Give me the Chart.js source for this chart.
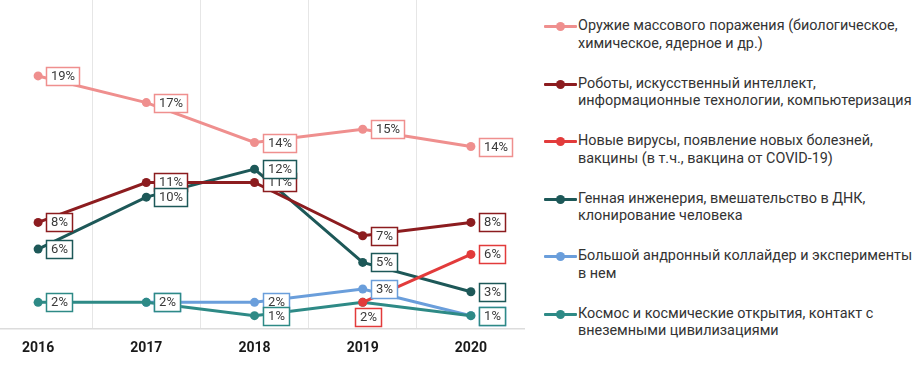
<!DOCTYPE html>
<html>
<head>
<meta charset="utf-8">
<script src="https://cdn.jsdelivr.net/npm/chart.js@4.4.0/dist/chart.umd.min.js"></script>
<style>
  html, body { margin: 0; padding: 0; background: #fff; }
  body { width: 923px; height: 372px; position: relative; overflow: hidden; font-family: Roboto, "Noto Sans", sans-serif; }
  #wrap { position: absolute; left: -16px; top: 0; width: 541px; height: 372px; }
  #legend { position: absolute; left: 544px; top: 17px; width: 380px; }
  .item { position: relative; height: 35px; margin-bottom: 22.6px; padding-left: 34px; font-size: 14.4px; line-height: 17.5px; color: #333; white-space: nowrap; }
  .mk { position: absolute; left: 0; top: 8px; width: 33px; height: 3px; border-radius: 1px; }
  .mk i { position: absolute; left: 12px; top: -3px; width: 9px; height: 9px; border-radius: 50%; }
</style>
</head>
<body>
<div id="wrap"><canvas id="c"></canvas></div>
<div id="legend"></div>
<script>
const years = ['2016', '2017', '2018', '2019', '2020'];
const seriesNames = [
  ['Оружие массового поражения (биологическое,', 'химическое, ядерное и др.)'],
  ['Роботы, искусственный интеллект,', 'информационные технологии, компьютеризация'],
  ['Новые вирусы, появление новых болезней,', 'вакцины (в т.ч., вакцина от COVID-19)'],
  ['Генная инженерия, вмешательство в ДНК,', 'клонирование человека'],
  ['Большой андронный коллайдер и эксперименты', 'в нем'],
  ['Космос и космические открытия, контакт с', 'внеземными цивилизациями']
];
const weapons  = [19, 17, 14, 15, 13.7];
const robots   = [8, 11, 11, 7, 8];
const viruses  = [null, null, null, 2, 5.6];
const genetic  = [6, 9.9, 12, 5, 2.8];
const collider = [null, 2, 2, 3, 1];
const space    = [2, 2, 1, 2, 1];

const seriesValues = [weapons, robots, viruses, genetic, collider, space];
const colors = ['#EF8F8E', '#8C1C1F', '#E23B3B', '#1D5858', '#6A9EDB', '#2E8A86'];
// label placement (style): dataset index -> point indexes
const labelBelow = { 2: [3] };
const labelHidden = { 5: [3] };
const drawOrder = [0, 0, 0, 0, 1, 0];

const datasets = seriesValues.map((vals, i) => ({
  label: seriesNames[i].join(' '),
  data: vals,
  order: drawOrder[i],
  borderColor: colors[i],
  backgroundColor: colors[i],
  pointBackgroundColor: colors[i],
  pointBorderWidth: 0,
  pointRadius: 4.5,
  borderWidth: 3,
  tension: 0,
  spanGaps: false,
  clip: false
}));

const labelPlugin = {
  id: 'boxLabels',
  afterDatasetsDraw(chart) {
    const ctx = chart.ctx;
    ctx.save();
    ctx.font = '13px Roboto, "Noto Sans", sans-serif';
    ctx.textBaseline = 'middle';
    ctx.textAlign = 'center';
    chart.data.datasets.forEach((ds, i) => {
      const meta = chart.getDatasetMeta(i);
      meta.data.forEach((pt, j) => {
        const v = ds.data[j];
        if (v === null || v === undefined) return;
        if (labelHidden[i] && labelHidden[i].includes(j)) return;
        const txt = Math.round(v) + '%';
        const tw = ctx.measureText(txt).width;
        const w = Math.round(tw + 9), h = 18;
        let x, y;
        const below = labelBelow[i] && labelBelow[i].includes(j);
        if (below) { x = pt.x + 5 - w / 2; y = pt.y + 6; }
        else { x = pt.x + 8; y = pt.y - h / 2; }
        x = Math.round(x) + 0.5; y = Math.round(y) + 0.5;
        ctx.fillStyle = '#fff';
        ctx.fillRect(x, y, w, h);
        ctx.strokeStyle = colors[i];
        ctx.lineWidth = 1.5;
        ctx.strokeRect(x, y, w, h);
        ctx.fillStyle = '#3a3a3a';
        ctx.fillText(txt, x + w / 2, y + h / 2 + 0.5);
      });
    });
    ctx.restore();
  }
};

new Chart(document.getElementById('c'), {
  type: 'line',
  data: { labels: years, datasets },
  options: {
    responsive: true,
    maintainAspectRatio: false,
    animation: false,
    layout: { autoPadding: false, padding: { left: 0, right: 0, top: 0, bottom: 13 } },
    plugins: { legend: { display: false }, tooltip: { enabled: false } },
    scales: {
      x: {
        offset: true,
        afterFit(scale) { scale.height = 30; },
        grid: { offset: true, color: '#e6e6e6', lineWidth: 1, drawTicks: false },
        border: { color: '#dcdcdc', width: 1.5 },
        ticks: { padding: 11, color: '#1a1a1a', font: { family: 'Roboto', size: 14, weight: 'bold' } }
      },
      y: { display: false, min: 0, max: 24.7 }
    }
  },
  plugins: [labelPlugin]
});

const legend = document.getElementById('legend');
seriesNames.forEach((lines, i) => {
  const d = document.createElement('div');
  d.className = 'item';
  d.innerHTML = '<span class="mk" style="background:' + colors[i] + '"><i style="background:' + colors[i] + '"></i></span>' + lines.join('<br>');
  legend.appendChild(d);
});
</script>
</body>
</html>
